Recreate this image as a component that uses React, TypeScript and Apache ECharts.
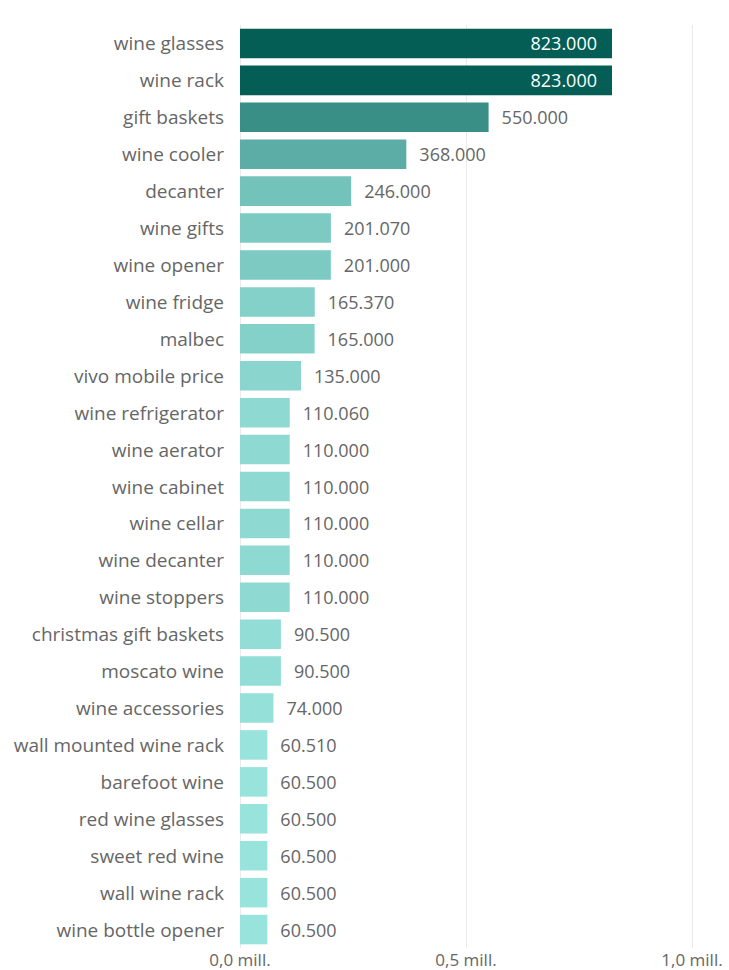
import React, { useEffect, useRef } from "react";
import * as echarts from "echarts";

const categories = [
  "wine glasses",
  "wine rack",
  "gift baskets",
  "wine cooler",
  "decanter",
  "wine gifts",
  "wine opener",
  "wine fridge",
  "malbec",
  "vivo mobile price",
  "wine refrigerator",
  "wine aerator",
  "wine cabinet",
  "wine cellar",
  "wine decanter",
  "wine stoppers",
  "christmas gift baskets",
  "moscato wine",
  "wine accessories",
  "wall mounted wine rack",
  "barefoot wine",
  "red wine glasses",
  "sweet red wine",
  "wall wine rack",
  "wine bottle opener",
];

const values = [
  823000, 823000, 550000, 368000, 246000, 201070, 201000, 165370, 165000,
  135000, 110060, 110000, 110000, 110000, 110000, 110000, 90500, 90500, 74000,
  60510, 60500, 60500, 60500, 60500, 60500,
];

const xTicks = [0, 500000, 1000000];

const fmtThousands = (v: number) =>
  String(Math.round(v)).replace(/\B(?=(\d{3})+(?!\d))/g, ".");

const fmtMill = (v: number) => (v / 1000000).toFixed(1).replace(".", ",") + " mill.";

const FONT = "Open Sans";

export default function App() {
  const ref = useRef<HTMLDivElement>(null);

  useEffect(() => {
    if (!ref.current) return;
    const chart = echarts.init(ref.current, undefined, { renderer: "svg" });
    const minV = Math.min(...values);
    const maxV = Math.max(...values);
    const data = values.map((v) => {
      const inside = v > 700000;
      return {
        value: v,
        label: inside
          ? { position: "insideRight", color: "#ffffff", distance: 15 }
          : { position: "right", color: "#666666", distance: 13 },
      };
    });
    chart.setOption({
      animation: false,
      textStyle: { fontFamily: FONT },
      grid: { left: 240, right: 37, top: 25, bottom: 22, containLabel: false },
      visualMap: {
        show: false,
        type: "continuous",
        min: minV,
        max: maxV,
        dimension: 0,
        seriesIndex: 0,
        inRange: { color: ["#98E3DC", "#045E56"] },
      },
      xAxis: {
        type: "value",
        min: xTicks[0],
        max: xTicks[xTicks.length - 1],
        interval: xTicks[1] - xTicks[0],
        axisLine: { show: false },
        axisTick: { show: false },
        splitLine: { show: true, lineStyle: { color: "#EAEAEA", width: 1 } },
        axisLabel: {
          formatter: (v: number) => fmtMill(v),
          color: "#666666",
          fontSize: 17,
          fontFamily: FONT,
          margin: 3,
        },
      },
      yAxis: {
        type: "category",
        data: categories,
        inverse: true,
        axisLine: { show: false },
        axisTick: { show: false },
        axisLabel: {
          color: "#666666",
          fontSize: 19,
          fontFamily: FONT,
          margin: 16,
        },
      },
      series: [
        {
          type: "bar",
          data,
          barCategoryGap: "20%",
          label: {
            show: true,
            fontSize: 18,
            fontFamily: FONT,
            formatter: (p: any) => fmtThousands(p.value),
          },
        },
      ],
    });
    return () => chart.dispose();
  }, []);

  return (
    <div
      ref={ref}
      style={{ position: "absolute", left: 0, top: 0, width: 729, height: 970 }}
    />
  );
}
